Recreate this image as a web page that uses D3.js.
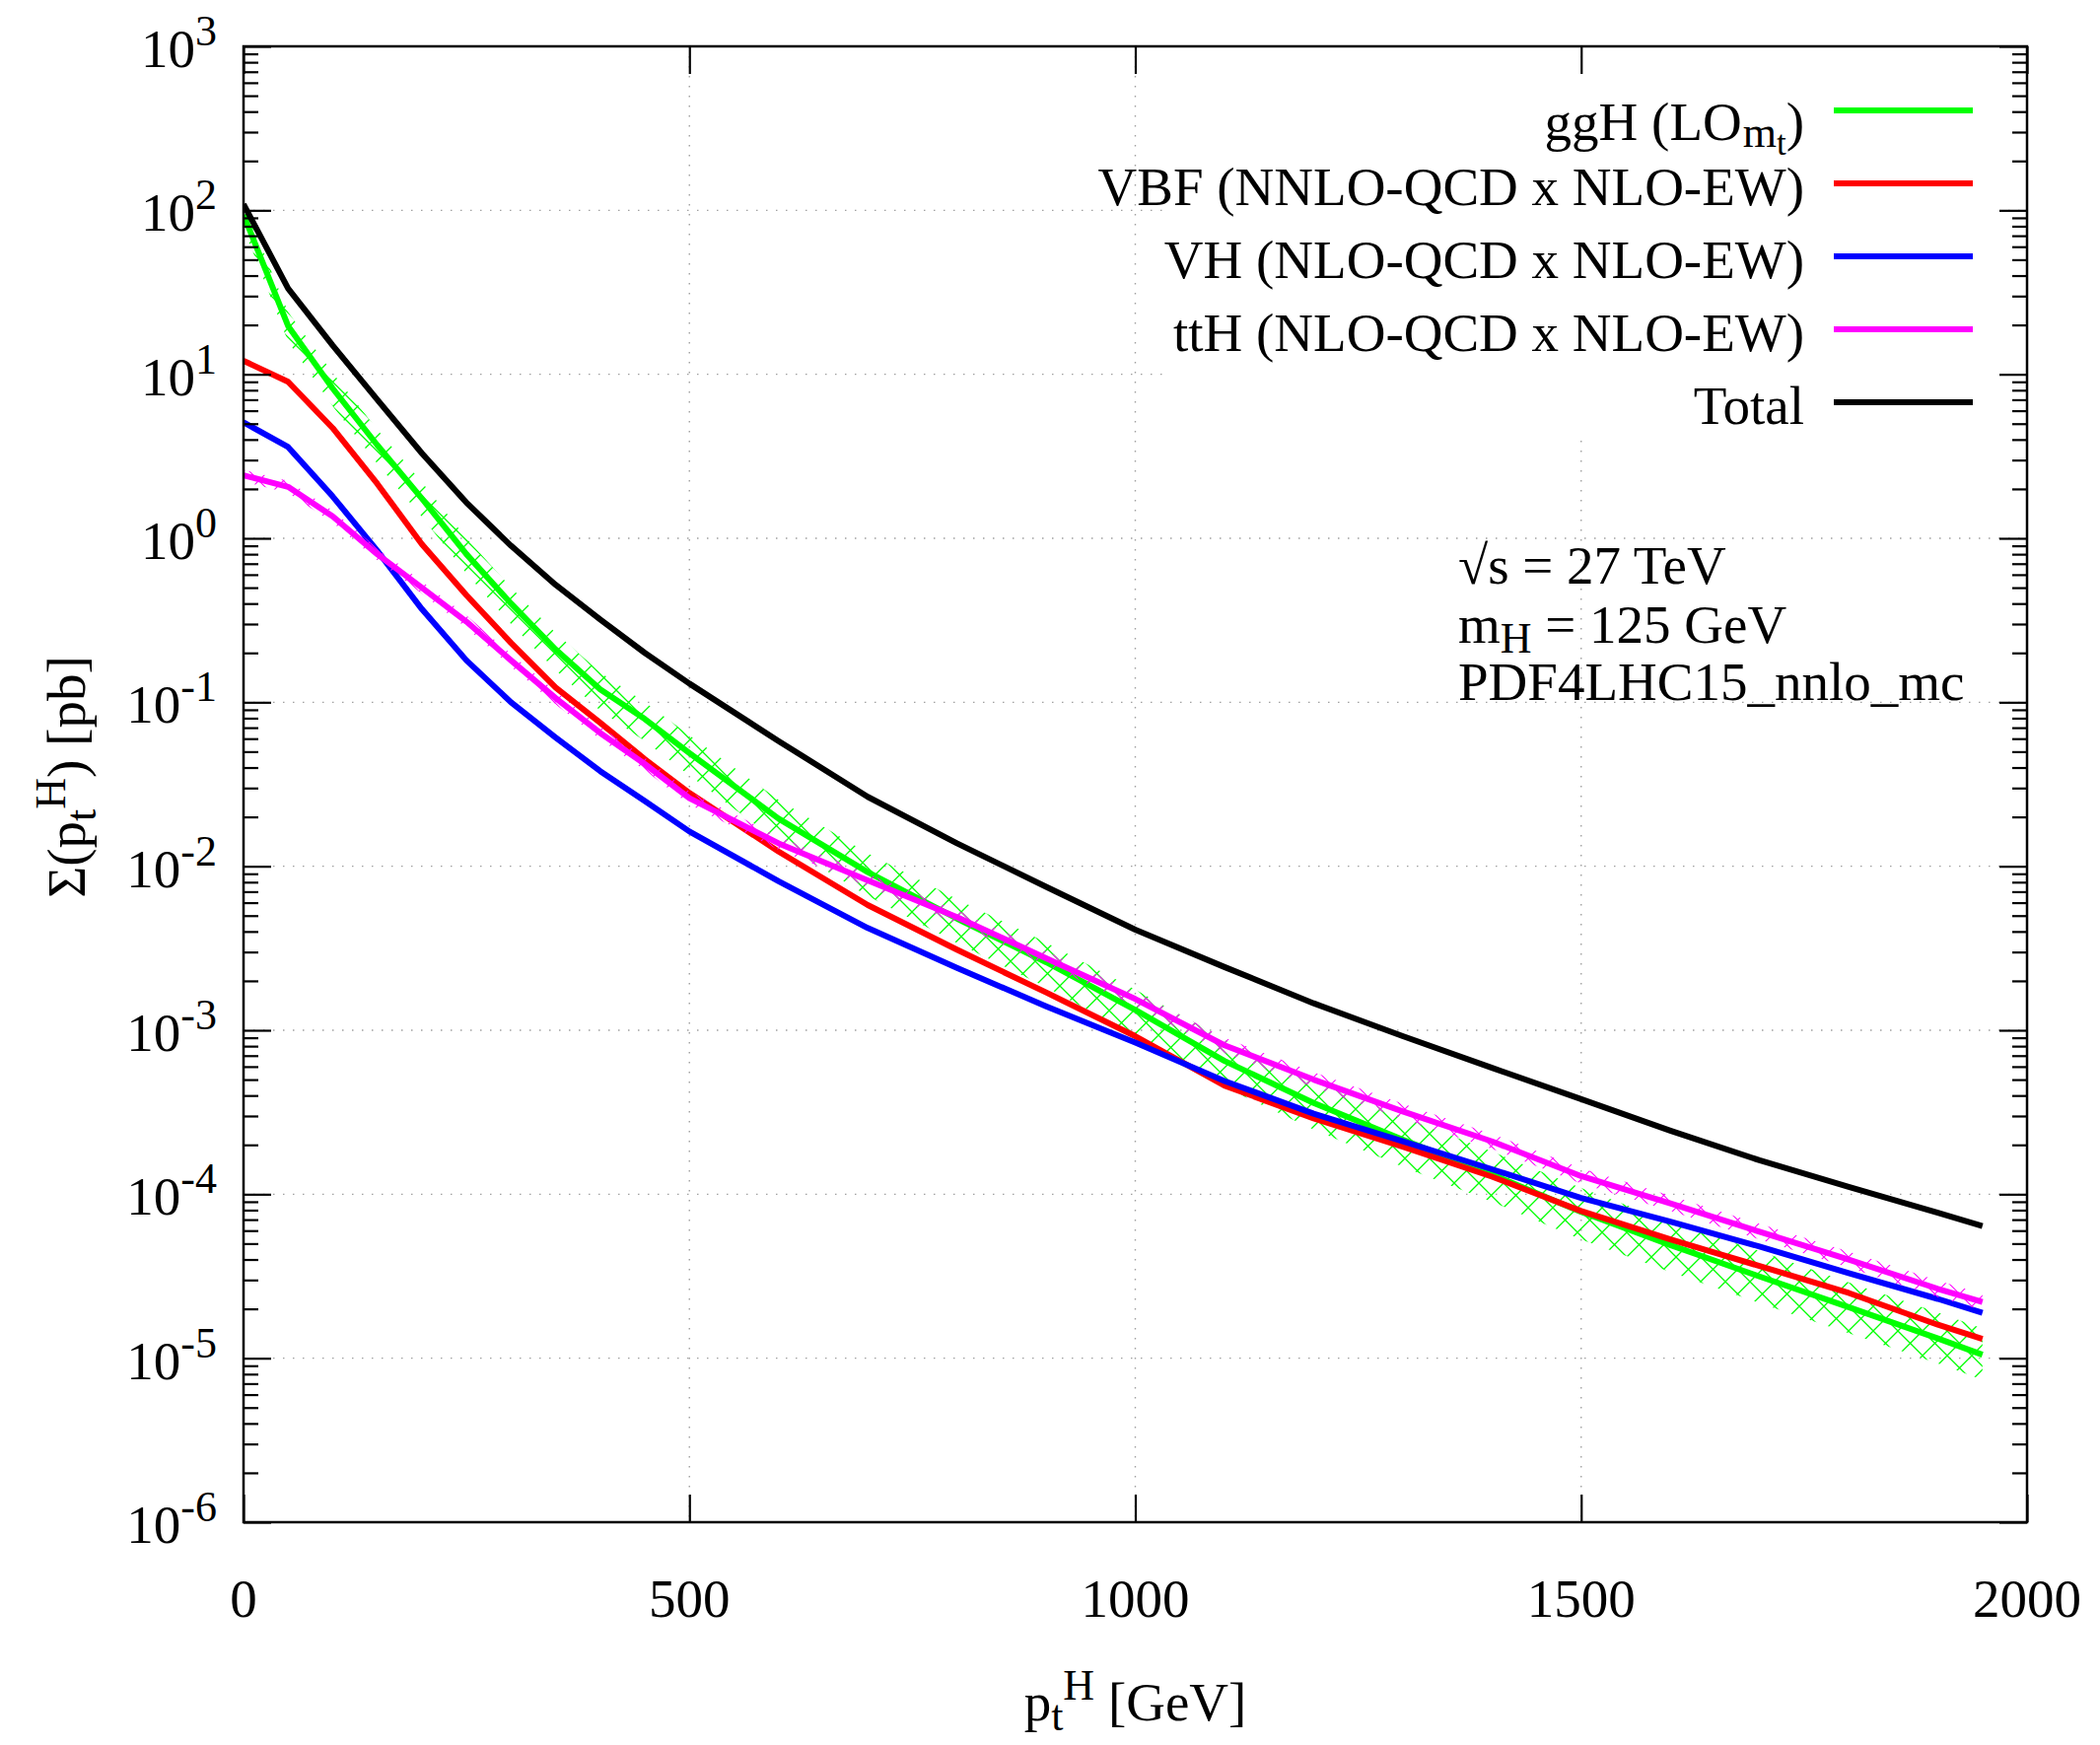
<!DOCTYPE html>
<html lang="en">
<head>
<meta charset="UTF-8">
<title>Sigma(pt^H) at 27 TeV</title>
<style>
  body { margin: 0; background: #fff; }
  svg { display: block; font-family: "Liberation Serif", "Times New Roman", serif; }
  .grid line { stroke: #a0a0a0; stroke-width: 1.4; stroke-dasharray: 1.5,8.5; }
  .curve { fill: none; stroke-width: 6; stroke-linejoin: round; }
  .lbl { font-size: 55px; fill: #000; }
</style>
</head>
<body>
<svg id="chart" width="2130" height="1770"></svg>
<script src="https://d3js.org/d3.v7.min.js"></script>
<script>
// pT cut values [GeV]
const ptH = [0, 50, 100, 150, 200, 250, 300, 350, 400, 450, 500, 600, 700, 800, 900,
             1000, 1100, 1200, 1300, 1400, 1500, 1600, 1700, 1800, 1900, 1950];

// Sigma(pT^H) [pb]
const ggH   = [94, 19.7, 8.2, 3.7, 1.75, 0.80, 0.40, 0.21, 0.12, 0.079, 0.049, 0.0195, 0.0092, 0.0048, 0.0026,
               0.00133, 0.00065, 0.00036, 0.000215, 0.000132, 7.8e-5, 4.9e-5, 3.15e-5, 2.05e-5, 1.32e-5, 1.05e-5];
const ggHHi = [110, 24, 10.2, 4.6, 2.2, 1.0, 0.5, 0.265, 0.152, 0.1, 0.063, 0.0254, 0.012, 0.0063, 0.00343,
               0.00177, 0.00088, 0.00049, 0.000297, 0.000182, 0.000109, 6.8e-5, 4.5e-5, 2.9e-5, 1.9e-5, 1.52e-5];
const ggHLo = [78, 15.8, 6.4, 2.85, 1.35, 0.61, 0.30, 0.157, 0.089, 0.058, 0.0358, 0.0141, 0.0066, 0.0034, 0.00183,
               0.00093, 0.00045, 0.000248, 0.000147, 9.0e-5, 5.3e-5, 3.35e-5, 2.17e-5, 1.42e-5, 9.3e-6, 7.4e-6];
const vbf   = [12.1, 9.0, 4.7, 2.15, 0.92, 0.45, 0.23, 0.123, 0.075, 0.045, 0.028, 0.0123, 0.0058, 0.0031, 0.0017,
               0.00092, 0.00046, 0.00029, 0.000195, 0.000128, 7.9e-5, 5.3e-5, 3.65e-5, 2.5e-5, 1.6e-5, 1.31e-5];
const vh    = [5.1, 3.6, 1.8, 0.84, 0.37, 0.18, 0.10, 0.061, 0.038, 0.025, 0.0163, 0.0081, 0.0042, 0.0024, 0.0014,
               0.00084, 0.00049, 0.00031, 0.00021, 0.000142, 9.5e-5, 6.8e-5, 4.8e-5, 3.3e-5, 2.3e-5, 1.89e-5];
const ttH   = [2.42, 2.06, 1.36, 0.80, 0.50, 0.31, 0.18, 0.106, 0.065, 0.042, 0.026, 0.0138, 0.0082, 0.0049, 0.00275,
               0.00155, 0.00081, 0.0005, 0.00032, 0.00021, 0.000129, 8.8e-5, 5.9e-5, 4.0e-5, 2.65e-5, 2.2e-5];
const ttHHi = [2.62, 2.24, 1.48, 0.87, 0.545, 0.338, 0.197, 0.116, 0.071, 0.046, 0.0285, 0.0152, 0.009, 0.0054, 0.00303,
               0.00171, 0.0009, 0.000555, 0.000356, 0.000233, 0.000144, 9.8e-5, 6.6e-5, 4.47e-5, 2.97e-5, 2.47e-5];
const ttHLo = [2.22, 1.89, 1.25, 0.735, 0.46, 0.285, 0.165, 0.097, 0.0595, 0.0385, 0.0238, 0.0126, 0.0075, 0.00447, 0.0025,
               0.00141, 0.00073, 0.00045, 0.000288, 0.000189, 0.000116, 7.9e-5, 5.3e-5, 3.57e-5, 2.36e-5, 1.96e-5];
const total = [109, 33.4, 15, 7.0, 3.3, 1.65, 0.90, 0.52, 0.32, 0.20, 0.13, 0.058, 0.0265, 0.0138, 0.0075,
               0.0041, 0.00243, 0.00146, 0.00092, 0.00059, 0.00038, 0.000244, 0.000161, 0.000111, 7.7e-5, 6.4e-5];

const xTicks = [0, 500, 1000, 1500, 2000];
const yExps = [-6, -5, -4, -3, -2, -1, 0, 1, 2, 3];

const seriesNames = ["ggH", "VBF (NNLO-QCD x NLO-EW)", "VH (NLO-QCD x NLO-EW)", "ttH (NLO-QCD x NLO-EW)", "Total"];
const seriesColors = ["#00ff00", "#ff0000", "#0000ff", "#ff00ff", "#000000"];
const seriesValues = [ggH, vbf, vh, ttH, total];

const svg = d3.select("#chart");
const box = { left: 247, right: 2056, top: 47, bottom: 1544 };

const x = d3.scaleLinear().domain([0, 2000]).range([box.left, box.right]);
const y = d3.scaleLog().domain([1e-6, 1e3]).range([box.bottom, box.top]);

svg.append("rect").attr("width", 2130).attr("height", 1770).attr("fill", "#fff");

const defs = svg.append("defs");
defs.append("clipPath").attr("id", "plot-clip")
  .append("rect").attr("x", box.left).attr("y", box.top)
  .attr("width", box.right - box.left).attr("height", box.bottom - box.top);

function hatch(id, color, w) {
  const p = defs.append("pattern").attr("id", id)
    .attr("patternUnits", "userSpaceOnUse").attr("width", 25).attr("height", 25);
  p.append("path").attr("d", "M0,0L25,25M25,0L0,25M-2,23L2,27M23,-2L27,2M-2,2L2,-2M23,27L27,23")
    .attr("stroke", color).attr("stroke-width", w).attr("fill", "none");
}
hatch("hatch-green", "#00ff00", 1.3);
hatch("hatch-magenta", "#ff00ff", 1.1);

// grid
const majors = yExps.map(e => Math.pow(10, e));
const grid = svg.append("g").attr("class", "grid");
grid.selectAll(".gy").data(majors.filter(v => v > 1e-6 && v < 1e3)).enter().append("line")
  .attr("x1", box.left).attr("x2", box.right).attr("y1", d => y(d)).attr("y2", d => y(d));
grid.selectAll(".gx").data(xTicks.filter(v => v > 0 && v < 2000)).enter().append("line")
  .attr("y1", box.top).attr("y2", box.bottom).attr("x1", d => x(d)).attr("x2", d => x(d));

// opaque key area
svg.append("rect").attr("x", 1185).attr("y", 62).attr("width", 850).attr("height", 385).attr("fill", "#fff");

const plot = svg.append("g").attr("clip-path", "url(#plot-clip)");

const area = (hi, lo) => d3.area()
  .x((d, i) => x(ptH[i]))
  .y0((d, i) => y(lo[i]))
  .y1((d, i) => y(hi[i]))(ptH);

plot.append("path").attr("d", area(ggHHi, ggHLo)).attr("fill", "url(#hatch-green)");

const line = vals => d3.line().x((d, i) => x(ptH[i])).y(d => y(d))(vals);

seriesValues.forEach((vals, k) => {
  if (k === 3) {
    plot.append("path").attr("d", area(ttHHi, ttHLo)).attr("fill", "url(#hatch-magenta)");
  }
  plot.append("path").attr("class", "curve").attr("d", line(vals)).attr("stroke", seriesColors[k]);
});

// axes ticks (inward, mirrored)
const minors = [];
yExps.slice(0, -1).forEach(e => { for (let m = 2; m <= 9; m++) minors.push(m * Math.pow(10, e)); });

function styleAxis(g) {
  g.select(".domain").remove();
  g.selectAll("line").attr("stroke", "#000").attr("stroke-width", 2.2);
}
svg.append("g").attr("transform", `translate(${box.left},0)`)
  .call(d3.axisLeft(y).tickValues(majors).tickSize(-28).tickFormat("")).call(styleAxis);
svg.append("g").attr("transform", `translate(${box.left},0)`)
  .call(d3.axisLeft(y).tickValues(minors).tickSize(-15).tickFormat("")).call(styleAxis);
svg.append("g").attr("transform", `translate(${box.right},0)`)
  .call(d3.axisRight(y).tickValues(majors).tickSize(-28).tickFormat("")).call(styleAxis);
svg.append("g").attr("transform", `translate(${box.right},0)`)
  .call(d3.axisRight(y).tickValues(minors).tickSize(-15).tickFormat("")).call(styleAxis);
svg.append("g").attr("transform", `translate(0,${box.bottom})`)
  .call(d3.axisBottom(x).tickValues(xTicks).tickSize(-28).tickFormat("")).call(styleAxis);
svg.append("g").attr("transform", `translate(0,${box.top})`)
  .call(d3.axisTop(x).tickValues(xTicks).tickSize(-28).tickFormat("")).call(styleAxis);

svg.append("rect").attr("x", box.left).attr("y", box.top)
  .attr("width", box.right - box.left).attr("height", box.bottom - box.top)
  .attr("fill", "none").attr("stroke", "#000").attr("stroke-width", 2.5);

// tick labels
const yl = svg.append("g").selectAll("text").data(yExps).enter().append("text")
  .attr("class", "lbl").attr("text-anchor", "end").attr("x", 220).attr("y", d => y(Math.pow(10, d)) + 21);
yl.append("tspan").text("10");
yl.append("tspan").attr("dy", -22).style("font-size", "44px").text(d => d);

svg.append("g").selectAll("text").data(xTicks).enter().append("text")
  .attr("class", "lbl").attr("text-anchor", "middle").attr("x", d => x(d)).attr("y", 1640).text(d => d);

// axis titles
const xt = svg.append("text").attr("class", "lbl").attr("text-anchor", "middle")
  .attr("x", (box.left + box.right) / 2).attr("y", 1745);
xt.append("tspan").text("p");
xt.append("tspan").attr("dy", 10).style("font-size", "44px").text("t");
xt.append("tspan").attr("dy", -31).style("font-size", "44px").text("H");
xt.append("tspan").attr("dy", 21).text(" [GeV]");

const yt = svg.append("text").attr("class", "lbl").attr("text-anchor", "middle")
  .attr("transform", "translate(86,788) rotate(-90)");
yt.append("tspan").text("Σ(p");
yt.append("tspan").attr("dy", 11).style("font-size", "44px").text("t");
yt.append("tspan").attr("dy", -31).style("font-size", "44px").text("H");
yt.append("tspan").attr("dy", 20).text(") [pb]");

// legend
const keyY = [112, 186, 260, 334, 408];
const key = svg.append("g");
seriesNames.forEach((name, k) => {
  key.append("line").attr("x1", 1860).attr("x2", 2001).attr("y1", keyY[k]).attr("y2", keyY[k])
    .attr("stroke", seriesColors[k]).attr("stroke-width", 6);
  const t = key.append("text").attr("class", "lbl").attr("text-anchor", "end")
    .attr("x", 1830).attr("y", keyY[k] + (k === 0 ? 30 : 22));
  if (k === 0) {
    t.append("tspan").text("ggH (LO");
    t.append("tspan").attr("dy", 7).attr("dx", 1).style("font-size", "44px").text("m");
    t.append("tspan").attr("dy", 8).style("font-size", "35px").text("t");
    t.append("tspan").attr("dy", -15).text(")");
  } else {
    t.text(name);
  }
});

// annotation
const ann = svg.append("g");
ann.append("text").attr("class", "lbl").attr("x", 1479).attr("y", 592).text("√s = 27 TeV");
const mh = ann.append("text").attr("class", "lbl").attr("x", 1479).attr("y", 652);
mh.append("tspan").text("m");
mh.append("tspan").attr("dy", 10).style("font-size", "44px").text("H");
mh.append("tspan").attr("dy", -10).text(" = 125 GeV");
ann.append("text").attr("class", "lbl").attr("x", 1479).attr("y", 710).text("PDF4LHC15_nnlo_mc");
</script>
</body>
</html>
